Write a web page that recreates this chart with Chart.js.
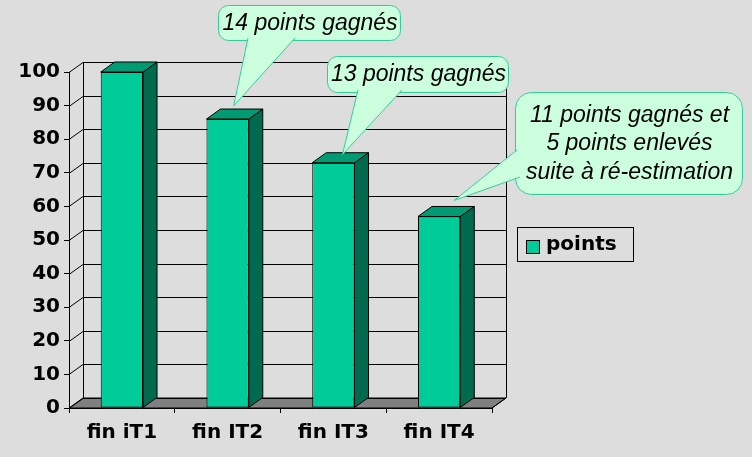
<!DOCTYPE html>
<html>
<head>
<meta charset="utf-8">
<script src="https://cdn.jsdelivr.net/npm/chart.js@4"></script>
<style>
  html, body { margin: 0; padding: 0; background: #dddddd; }
  #wrap { width: 752px; height: 457px; }
</style>
</head>
<body>
<div id="wrap"><canvas id="chart"></canvas></div>
<script>
const categories = ['fin iT1', 'fin IT2', 'fin IT3', 'fin IT4'];
const points = [100, 86, 73, 57];
const seriesLabel = 'points';

// callout texts, keyed by the bar they point at
const calloutBars = [1, 2, 3];
const calloutTexts = [
    ['14 points gagnés'],
    ['13 points gagnés'],
    ['11 points gagnés et', '5 points enlevés', 'suite à ré-estimation']
];

const frontColor = '#00cc99';
const sideColor = '#006a4e';
const topColor = '#009b73';
const floorColor = '#808080';
const calloutFill = '#ccffdd';
const calloutBorder = '#33cc99';
const depthX = 14;
const depthY = -10;

// callout box layout (pixels) and pointer geometry
const calloutLayout = [
    { x: 218, y: 5, w: 182, h: 35, r: 10, base: [[248, 38], [295, 38]], tip: [6, -13], lh: 28 },
    { x: 327, y: 56, w: 181, h: 36, r: 10, base: [[358, 90], [402, 90]], tip: [9, -8], lh: 28 },
    { x: 515, y: 92, w: 227, h: 102, r: 16, base: [[517, 150], [520, 177]], tip: [15, -16], lh: 28.5 }
];

const roundRect = (ctx, x, y, w, h, r) => {
    ctx.beginPath();
    ctx.moveTo(x + r, y);
    ctx.arcTo(x + w, y, x + w, y + h, r);
    ctx.arcTo(x + w, y + h, x, y + h, r);
    ctx.arcTo(x, y + h, x, y, r);
    ctx.arcTo(x, y, x + w, y, r);
    ctx.closePath();
};

const wallPlugin = {
    id: 'wall',
    beforeDatasetsDraw(chart) {
        const ctx = chart.ctx;
        const { left, right, top, bottom } = chart.chartArea;
        const yScale = chart.scales.y;
        ctx.save();
        ctx.strokeStyle = '#000';
        ctx.lineWidth = 1;
        // floor
        ctx.fillStyle = floorColor;
        ctx.beginPath();
        ctx.moveTo(left, bottom);
        ctx.lineTo(left + depthX, bottom + depthY);
        ctx.lineTo(right + depthX, bottom + depthY);
        ctx.lineTo(right, bottom);
        ctx.closePath();
        ctx.fill();
        ctx.stroke();
        // back wall gridlines + side diagonals
        yScale.ticks.forEach(t => {
            const py = Math.round(yScale.getPixelForValue(t.value)) + 0.5;
            ctx.beginPath();
            ctx.moveTo(left, py);
            ctx.lineTo(left + depthX, py + depthY);
            ctx.lineTo(right + depthX, py + depthY);
            ctx.stroke();
        });
        // wall edges
        ctx.beginPath();
        ctx.moveTo(left + depthX + 0.5, top + depthY);
        ctx.lineTo(left + depthX + 0.5, bottom + depthY);
        ctx.moveTo(right + depthX + 0.5, top + depthY);
        ctx.lineTo(right + depthX + 0.5, bottom + depthY);
        ctx.moveTo(right, bottom);
        ctx.lineTo(right + depthX, bottom + depthY);
        ctx.stroke();
        ctx.restore();
    },
    afterDatasetsDraw(chart) {
        const ctx = chart.ctx;
        const meta = chart.getDatasetMeta(0);
        ctx.save();
        ctx.strokeStyle = '#000';
        ctx.lineWidth = 1;
        meta.data.forEach(bar => {
            const l = bar.x - bar.width / 2;
            const r = bar.x + bar.width / 2;
            const y = bar.y;
            const b = bar.base;
            // side face
            ctx.fillStyle = sideColor;
            ctx.beginPath();
            ctx.moveTo(r, y);
            ctx.lineTo(r + depthX, y + depthY);
            ctx.lineTo(r + depthX, b + depthY);
            ctx.lineTo(r, b);
            ctx.closePath();
            ctx.fill();
            ctx.stroke();
            // top face
            ctx.fillStyle = topColor;
            ctx.beginPath();
            ctx.moveTo(l, y);
            ctx.lineTo(l + depthX, y + depthY);
            ctx.lineTo(r + depthX, y + depthY);
            ctx.lineTo(r, y);
            ctx.closePath();
            ctx.fill();
            ctx.stroke();
        });

        // callouts
        calloutBars.forEach((bi, i) => {
            const lay = calloutLayout[i];
            const bar = meta.data[bi];
            const tipX = bar.x + lay.tip[0];
            const tipY = bar.y + lay.tip[1];
            ctx.fillStyle = calloutFill;
            ctx.strokeStyle = calloutBorder;
            roundRect(ctx, lay.x + 0.5, lay.y + 0.5, lay.w, lay.h, lay.r);
            ctx.fill();
            ctx.stroke();
            ctx.beginPath();
            ctx.moveTo(lay.base[0][0], lay.base[0][1]);
            ctx.lineTo(tipX, tipY);
            ctx.lineTo(lay.base[1][0], lay.base[1][1]);
            ctx.closePath();
            ctx.fill();
            ctx.beginPath();
            ctx.moveTo(lay.base[0][0], lay.base[0][1]);
            ctx.lineTo(tipX, tipY);
            ctx.lineTo(lay.base[1][0], lay.base[1][1]);
            ctx.stroke();
            ctx.fillStyle = '#000';
            ctx.font = 'italic 23px "Liberation Sans", Arial, sans-serif';
            ctx.textAlign = 'center';
            ctx.textBaseline = 'middle';
            const lines = calloutTexts[i];
            const cx = lay.x + lay.w / 2 + 1;
            const cy = lay.y + lay.h / 2 + 1;
            lines.forEach((txt, k) => {
                ctx.fillText(txt, cx, cy + (k - (lines.length - 1) / 2) * lay.lh);
            });
        });

        // legend
        ctx.strokeStyle = '#000';
        ctx.strokeRect(517.5, 227.5, 116, 34);
        ctx.fillStyle = frontColor;
        ctx.fillRect(526.5, 240.5, 13, 13);
        ctx.strokeRect(526.5, 240.5, 13, 13);
        ctx.fillStyle = '#000';
        ctx.font = 'bold 20px "DejaVu Sans", sans-serif';
        ctx.textAlign = 'left';
        ctx.textBaseline = 'middle';
        ctx.fillText(chart.data.datasets[0].label, 546, 245);
        ctx.restore();
    }
};

const ctx = document.getElementById('chart').getContext('2d');
new Chart(ctx, {
    type: 'bar',
    data: {
        labels: categories,
        datasets: [{
            label: seriesLabel,
            data: points,
            backgroundColor: frontColor,
            borderColor: '#000',
            borderWidth: 1,
            borderSkipped: false,
            barPercentage: 0.4,
            categoryPercentage: 1
        }]
    },
    options: {
        responsive: true,
        maintainAspectRatio: false,
        animation: false,
        devicePixelRatio: 1,
        layout: { padding: { top: 72, right: 260, left: 0, bottom: 0 } },
        plugins: {
            legend: { display: false },
            tooltip: { enabled: false }
        },
        scales: {
            x: {
                afterFit: s => { s.height = 49; },
                grid: { offset: true, drawOnChartArea: false, tickLength: 5, color: '#000' },
                border: { display: true, color: '#000' },
                ticks: { color: '#000', padding: 8, font: { family: 'DejaVu Sans', weight: 'bold', size: 20 } }
            },
            y: {
                min: 0,
                max: 100,
                afterFit: s => { s.width = 69; },
                grid: { drawOnChartArea: false, tickLength: 5, color: '#000' },
                border: { display: true, color: '#000' },
                ticks: { stepSize: 10, color: '#000', padding: 4, font: { family: 'DejaVu Sans', weight: 'bold', size: 20 } }
            }
        }
    },
    plugins: [wallPlugin]
});
</script>
</body>
</html>
